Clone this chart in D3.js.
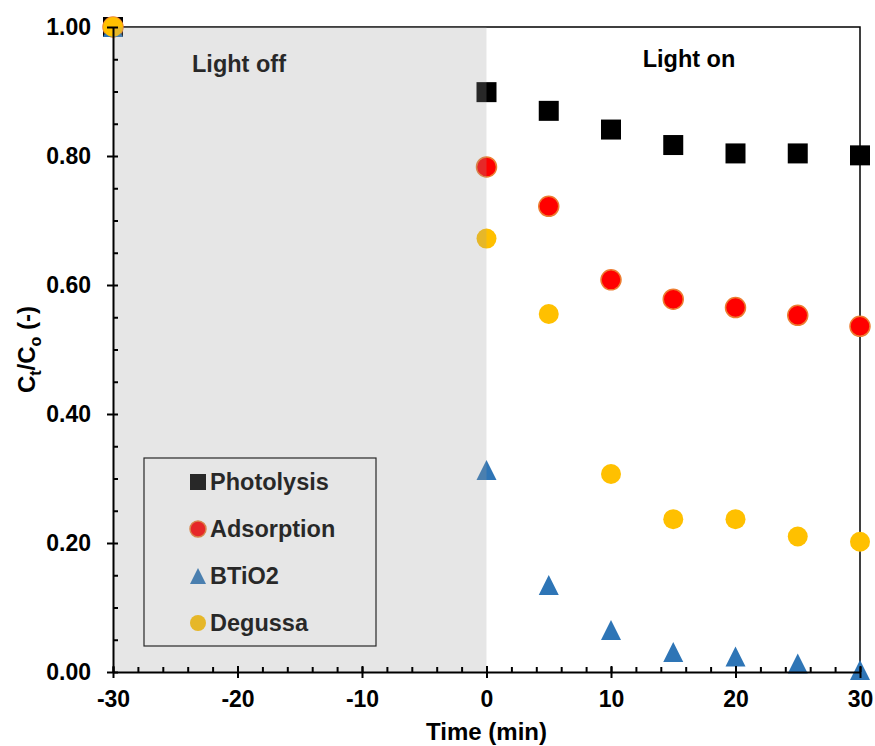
<!DOCTYPE html>
<html lang="en">
<head>
<meta charset="utf-8">
<title>Ct/Co vs time</title>
<script src="https://d3js.org/d3.v7.min.js"></script>
<style>
  body { margin: 0; background: #fff; }
  svg text { font-family: "Liberation Sans", Arial, sans-serif; font-weight: bold; }
</style>
</head>
<body>
<svg id="chart" width="875" height="746"></svg>
<script>
// data
const times = [-30, 0, 5, 10, 15, 20, 25, 30];
const photolysis = [1.00, 0.899, 0.870, 0.841, 0.817, 0.804, 0.804, 0.801];
const adsorption = [1.00, 0.783, 0.722, 0.608, 0.578, 0.565, 0.553, 0.536];
const btio2 = [1.00, 0.313, 0.135, 0.065, 0.031, 0.024, 0.013, 0.003];
const degussa = [1.00, 0.672, 0.555, 0.307, 0.237, 0.237, 0.210, 0.202];
const seriesNames = ["Photolysis", "Adsorption", "BTiO2", "Degussa"];
const xTicks = [-30, -20, -10, 0, 10, 20, 30];
const yTicks = [0, 0.2, 0.4, 0.6, 0.8, 1.0];

const series = [
  { name: seriesNames[0], values: photolysis, shape: "square", fill: "#000000", stroke: "none" },
  { name: seriesNames[1], values: adsorption, shape: "circle", fill: "#ff0000", stroke: "#ed7d31" },
  { name: seriesNames[2], values: btio2, shape: "triangle", fill: "#2e75b6", stroke: "none" },
  { name: seriesNames[3], values: degussa, shape: "circle", fill: "#ffc000", stroke: "none" }
];

const svg = d3.select("#chart");
const plotL = 113, plotR = 860, plotT = 27, plotB = 672;

const x = d3.scaleLinear().domain([-30, 30]).range([plotL, plotR]);
const y = d3.scaleLinear().domain([0, 1]).range([plotB, plotT]);

function symbolPath(shape, size) {
  const s = size / 2;
  if (shape === "square") return `M${-s},${-s}H${s}V${s}H${-s}Z`;
  if (shape === "triangle") return `M0,${-s}L${s},${s}L${-s},${s}Z`;
  return d3.arc()({ innerRadius: 0, outerRadius: s, startAngle: 0, endAngle: 2 * Math.PI });
}

// frame (top + right)
svg.append("path")
  .attr("d", `M${plotL},${plotT}H${plotR}V${plotB}`)
  .attr("fill", "none")
  .attr("stroke", "#000")
  .attr("stroke-width", 1.5);

// markers
series.forEach(s => {
  svg.append("g").selectAll("path")
    .data(times.map((t, i) => [t, s.values[i]]))
    .join("path")
    .attr("transform", d => `translate(${x(d[0])},${y(d[1])})`)
    .attr("d", symbolPath(s.shape, 20))
    .attr("fill", s.fill)
    .attr("stroke", s.stroke)
    .attr("stroke-width", 1.5);
});

// legend
const legend = svg.append("g");
legend.append("rect")
  .attr("x", 144).attr("y", 458).attr("width", 232).attr("height", 188)
  .attr("fill", "none").attr("stroke", "#000").attr("stroke-width", 1.2);
series.forEach((s, i) => {
  const ly = 482 + i * 47;
  legend.append("path")
    .attr("transform", `translate(198,${ly})`)
    .attr("d", symbolPath(s.shape, 16))
    .attr("fill", s.fill)
    .attr("stroke", s.stroke)
    .attr("stroke-width", 1.5);
  legend.append("text")
    .attr("x", 210).attr("y", ly + 8)
    .attr("font-size", 23.5).attr("fill", "#000")
    .text(s.name);
});

svg.append("text")
  .attr("x", 239).attr("y", 72)
  .attr("text-anchor", "middle").attr("font-size", 23.5).attr("fill", "#000")
  .text("Light off");

// shaded "light off" region, drawn over the marks
svg.append("rect")
  .attr("x", x(-30)).attr("y", plotT)
  .attr("width", x(0) - x(-30)).attr("height", plotB - plotT)
  .attr("fill", "#9d9d9d").attr("fill-opacity", 0.255);

svg.append("text")
  .attr("x", 689).attr("y", 67)
  .attr("text-anchor", "middle").attr("font-size", 23.5).attr("fill", "#000")
  .text("Light on");

// axes
const xAxis = svg.append("g").attr("transform", `translate(0,${plotB})`);
xAxis.call(d3.axisBottom(x).tickValues(d3.range(-30, 31, 2)).tickSize(-5).tickFormat(""))
  .call(g => g.select(".domain").remove());
const xMajor = xAxis.append("g");
xMajor.call(d3.axisBottom(x).tickValues(xTicks).tickSizeInner(6).tickSizeOuter(0).tickPadding(13).tickFormat(d => String(d)))
  .call(g => g.selectAll(".tick line").attr("y1", -6));
xAxis.selectAll("line, path").attr("stroke", "#000").attr("stroke-width", 2);
xAxis.selectAll("text").attr("font-size", 23).attr("fill", "#000");

const yAxis = svg.append("g").attr("transform", `translate(${plotL},0)`);
yAxis.call(d3.axisLeft(y).tickValues(d3.range(0, 1.001, 0.05)).tickSize(-5).tickFormat(""))
  .call(g => g.select(".domain").remove());
const yMajor = yAxis.append("g");
yMajor.call(d3.axisLeft(y).tickValues(yTicks).tickSizeInner(6).tickSizeOuter(0).tickPadding(16).tickFormat(d3.format(".2f")));
yAxis.selectAll("line, path").attr("stroke", "#000").attr("stroke-width", 2);
yAxis.selectAll("text").attr("font-size", 23).attr("fill", "#000");

// axis titles
svg.append("text")
  .attr("x", x(0)).attr("y", 740)
  .attr("text-anchor", "middle").attr("font-size", 24).attr("fill", "#000")
  .text("Time (min)");

const yTitle = svg.append("text")
  .attr("transform", `translate(35,${y(0.5)}) rotate(-90)`)
  .attr("text-anchor", "middle").attr("font-size", 24).attr("fill", "#000");
yTitle.append("tspan").text("C");
yTitle.append("tspan").attr("font-size", 16).attr("dy", 6).text("t");
yTitle.append("tspan").attr("dy", -6).text("/C");
yTitle.append("tspan").attr("font-size", 16).attr("dy", 6).text("o");
yTitle.append("tspan").attr("dy", -6).text(" (-)");
</script>
</body>
</html>
